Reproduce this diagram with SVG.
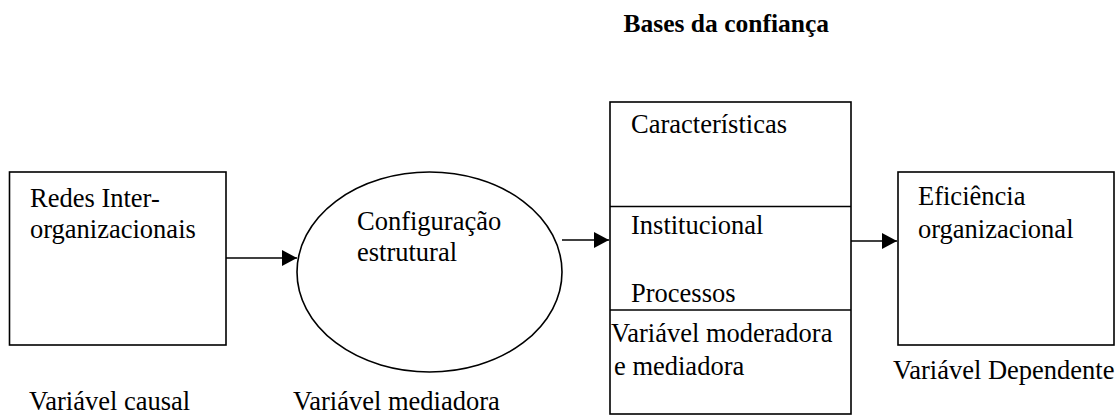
<svg xmlns="http://www.w3.org/2000/svg" width="1120" height="416" viewBox="0 0 1120 416">
<style>
.shape{fill:#fff;stroke:#000;stroke-width:1.6}
.line{fill:none;stroke:#000;stroke-width:1.5}
.t{font-family:'Liberation Serif','DejaVu Serif',serif;font-size:26.5px;fill:#000}
.title{font-family:'Liberation Serif','DejaVu Serif',serif;font-weight:bold;font-size:25.5px;fill:#000}
</style>
<defs>
<marker id="arr" markerWidth="15" markerHeight="16" refX="15" refY="8" orient="auto" markerUnits="userSpaceOnUse">
<path d="M0,0 L15,8 L0,16 Z" fill="#000"/>
</marker>
</defs>
<text class="title" x="829" y="32" text-anchor="end">Bases da confiança</text>
<g id="redes">
<rect class="shape" x="9.5" y="172" width="216.5" height="173"/>
<text class="t" x="30" y="207">Redes Inter-</text>
<text class="t" x="30" y="238">organizacionais</text>
</g>
<g id="configuracao">
<ellipse class="shape" cx="429.5" cy="272" rx="132.5" ry="100"/>
<text class="t" x="357" y="230">Configuração</text>
<text class="t" x="357" y="261">estrutural</text>
</g>
<g id="bases">
<rect class="shape" x="610" y="102" width="241" height="312"/>
<line class="line" x1="610" y1="206.5" x2="851" y2="206.5"/>
<line class="line" x1="610" y1="310" x2="851" y2="310"/>
<text class="t" x="631" y="133">Características</text>
<text class="t" x="631" y="234">Institucional</text>
<text class="t" x="631" y="302">Processos</text>
<text class="t" x="611" y="342">Variável moderadora</text>
<text class="t" x="614" y="375">e mediadora</text>
</g>
<g id="eficiencia">
<rect class="shape" x="898" y="172" width="216" height="173"/>
<text class="t" x="918" y="205">Eficiência</text>
<text class="t" x="918" y="238">organizacional</text>
</g>
<g id="labels">
<text class="t" x="29" y="410">Variável causal</text>
<text class="t" x="293" y="410">Variável mediadora</text>
<text class="t" x="893" y="379">Variável Dependente</text>
</g>
<g id="connectors">
<line class="line" x1="226" y1="258" x2="297" y2="258" marker-end="url(#arr)"/>
<line class="line" x1="562" y1="240" x2="609" y2="240" marker-end="url(#arr)"/>
<line class="line" x1="851" y1="241" x2="897" y2="241" marker-end="url(#arr)"/>
</g>
</svg>
